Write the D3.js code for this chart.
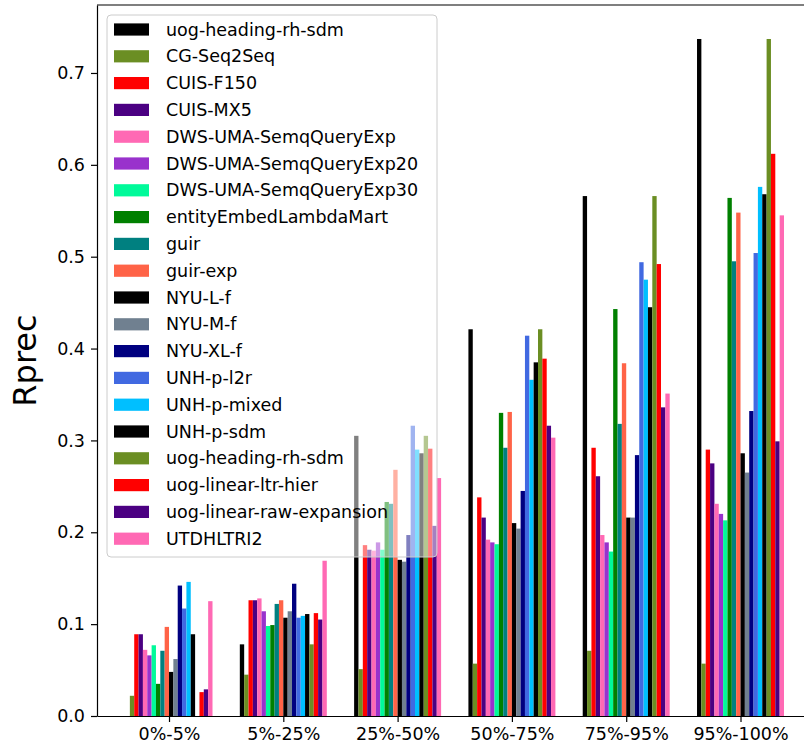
<!DOCTYPE html>
<html>
<head>
<meta charset="utf-8">
<script src="https://cdn.jsdelivr.net/npm/d3@7"></script>
<style>
body { margin: 0; background: #fff; }
text { font-family: "DejaVu Sans", sans-serif; }
</style>
</head>
<body>
<svg id="chart" width="804" height="749"></svg>
<script>
// bins along the x axis
var bins = ["0%-5%", "5%-25%", "25%-50%", "50%-75%", "75%-95%", "95%-100%"];

var runs = ["uog-heading-rh-sdm", "CG-Seq2Seq", "CUIS-F150", "CUIS-MX5",
    "DWS-UMA-SemqQueryExp", "DWS-UMA-SemqQueryExp20", "DWS-UMA-SemqQueryExp30",
    "entityEmbedLambdaMart", "guir", "guir-exp", "NYU-L-f", "NYU-M-f", "NYU-XL-f",
    "UNH-p-l2r", "UNH-p-mixed", "UNH-p-sdm", "uog-heading-rh-sdm",
    "uog-linear-ltr-hier", "uog-linear-raw-expansion", "UTDHLTRI2"];

var colors = ["#000000", "#6b8e23", "#ff0000", "#4b0082", "#ff69b4", "#9932cc",
    "#00fa9a", "#008000", "#008080", "#ff6347", "#000000", "#708090", "#000080",
    "#4169e1", "#00bfff", "#000000", "#6b8e23", "#ff0000", "#4b0082", "#ff69b4"];

// Rprec per run, one value per bin
var rprec = [
    [0.000, 0.078, 0.305, 0.421, 0.566, 0.737],
    [0.022, 0.045, 0.051, 0.057, 0.071, 0.057],
    [0.089, 0.126, 0.186, 0.238, 0.292, 0.290],
    [0.089, 0.126, 0.181, 0.216, 0.261, 0.275],
    [0.072, 0.128, 0.180, 0.192, 0.197, 0.231],
    [0.066, 0.114, 0.189, 0.189, 0.189, 0.220],
    [0.077, 0.098, 0.181, 0.187, 0.179, 0.213],
    [0.035, 0.099, 0.233, 0.330, 0.443, 0.564],
    [0.071, 0.122, 0.231, 0.292, 0.318, 0.495],
    [0.097, 0.126, 0.268, 0.331, 0.384, 0.548],
    [0.048, 0.107, 0.170, 0.210, 0.216, 0.286],
    [0.062, 0.114, 0.168, 0.204, 0.216, 0.265],
    [0.142, 0.144, 0.197, 0.245, 0.284, 0.332],
    [0.117, 0.107, 0.316, 0.414, 0.494, 0.504],
    [0.146, 0.109, 0.290, 0.366, 0.475, 0.576],
    [0.089, 0.111, 0.286, 0.385, 0.445, 0.568],
    [0.000, 0.078, 0.305, 0.421, 0.566, 0.737],
    [0.026, 0.112, 0.291, 0.389, 0.492, 0.612],
    [0.029, 0.105, 0.207, 0.316, 0.336, 0.299],
    [0.125, 0.169, 0.259, 0.303, 0.351, 0.545]
];

var yTicks = [0.0, 0.1, 0.2, 0.3, 0.4, 0.5, 0.6, 0.7];

var svg = d3.select("#chart");
var plotLeft = 97, plotTop = 5, plotBottom = 716;

var x = d3.scaleLinear().domain([-0.63, 5.63]).range([plotLeft, plotLeft + 6.26 * 114.3]);
var y = d3.scaleLinear().domain([0, 0.774]).range([plotBottom, plotTop]);
// position of a run inside its group
var inner = d3.scaleBand().domain(d3.range(runs.length)).range([-0.3805, 0.3805]);

var bars = svg.append("g");
for (var r = 0; r < runs.length; r++) {
    bars.selectAll(null).data(rprec[r]).enter().append("rect")
        .attr("x", function(d, i) { return x(i + inner(r)); })
        .attr("width", x(inner.bandwidth()) - x(0))
        .attr("y", function(d) { return y(d); })
        .attr("height", function(d) { return plotBottom - y(d); })
        .attr("fill", colors[r]);
}

// axes
var xAxis = d3.axisBottom(x).tickValues(d3.range(bins.length))
    .tickFormat(function(d) { return bins[d]; }).tickSizeInner(6).tickSizeOuter(0).tickPadding(6);
var yAxis = d3.axisLeft(y).tickValues(yTicks)
    .tickFormat(d3.format(".1f")).tickSizeInner(6).tickSizeOuter(0).tickPadding(6);

var gx = svg.append("g").attr("transform", "translate(0," + plotBottom + ")").call(xAxis);
var gy = svg.append("g").attr("transform", "translate(" + plotLeft + ",0)").call(yAxis);
[gx, gy].forEach(function(g) {
    g.selectAll("text").attr("font-size", 17.5).attr("fill", "#000")
        .attr("font-family", "DejaVu Sans, sans-serif");
    g.selectAll("line").attr("stroke", "#000").attr("stroke-width", 1.2);
    g.select(".domain").attr("stroke", "#000").attr("stroke-width", 1.2);
});

// top spine (right one is off the page)
svg.append("line").attr("x1", plotLeft).attr("x2", 804).attr("y1", plotTop).attr("y2", plotTop)
    .attr("stroke", "#000").attr("stroke-width", 1.2);

svg.append("text")
    .attr("transform", "translate(36," + (plotTop + plotBottom) / 2 + ") rotate(-90)")
    .attr("text-anchor", "middle")
    .attr("font-size", 32)
    .text("Rprec");

// legend
var lg = svg.append("g").attr("transform", "translate(107,15)");
lg.append("rect").attr("width", 330).attr("height", 542).attr("rx", 4)
    .attr("fill", "#fff").attr("fill-opacity", 0.5)
    .attr("stroke", "#cccccc").attr("stroke-width", 1);
var items = lg.selectAll("g.item").data(runs).enter().append("g")
    .attr("class", "item")
    .attr("transform", function(d, i) { return "translate(0," + (14.5 + 26.8 * i) + ")"; });
items.append("rect").attr("x", 7).attr("y", -6.1).attr("width", 35).attr("height", 12.2)
    .attr("fill", function(d, i) { return colors[i]; });
items.append("text").attr("x", 59).attr("dy", "0.35em")
    .attr("font-size", 17.5).text(function(d) { return d; });
</script>
</body>
</html>
